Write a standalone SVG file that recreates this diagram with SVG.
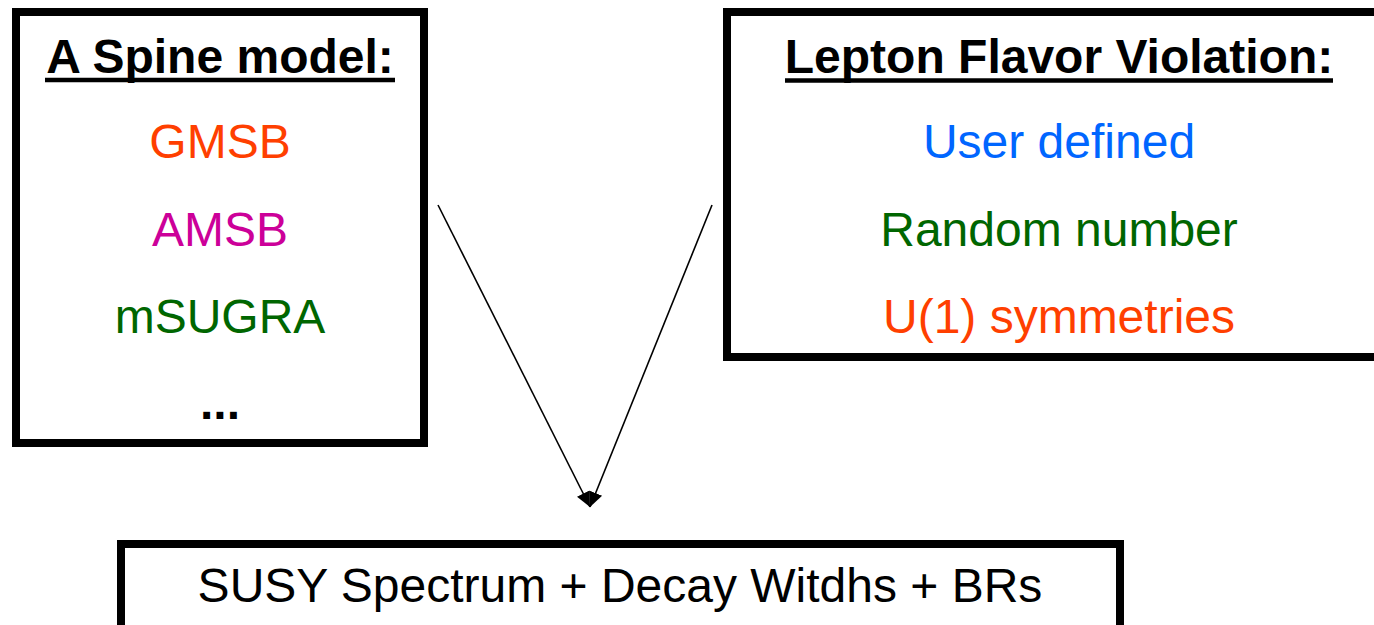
<svg xmlns="http://www.w3.org/2000/svg" width="1374" height="625" viewBox="0 0 1374 625">
  <style>
    .box { fill: #ffffff; stroke: #000000; stroke-width: 8; }
    .title { font-family: "Liberation Sans", Arial, sans-serif; font-size: 48px; font-weight: bold; fill: #000000; text-anchor: middle; }
    .item { font-family: "Liberation Sans", Arial, sans-serif; font-size: 48px; text-anchor: middle; }
    .uline { stroke: #000000; stroke-width: 4.5; }
    .edge { stroke: #000000; stroke-width: 1.6; fill: none; }
  </style>
  <defs>
    <marker id="head" markerUnits="userSpaceOnUse" markerWidth="16" markerHeight="16" refX="15" refY="7" orient="auto" viewBox="0 0 16 14">
      <path d="M0,0 L15,7 L0,14 z" fill="#000000"/>
    </marker>
  </defs>
  <rect width="1374" height="625" fill="#ffffff"/>

  <g id="spine-model">
    <rect class="box" x="16" y="12" width="408" height="431"/>
    <text class="title" x="220" y="73">A Spine model:</text>
    <line class="uline" x1="45" y1="80" x2="395" y2="80"/>
    <text class="item" x="220" y="158" fill="#ff3f00">GMSB</text>
    <text class="item" x="220" y="246" fill="#cc0099">AMSB</text>
    <text class="item" x="220" y="333" fill="#006600">mSUGRA</text>
    <text class="title" x="220" y="419">...</text>
  </g>

  <g id="lepton-flavor">
    <rect class="box" x="727" y="12" width="670" height="345"/>
    <text class="title" x="1059" y="73">Lepton Flavor Violation:</text>
    <line class="uline" x1="785" y1="80.5" x2="1333" y2="80.5"/>
    <text class="item" x="1059" y="158" fill="#0066ff">User defined</text>
    <text class="item" x="1059" y="246" fill="#006600">Random number</text>
    <text class="item" x="1059" y="333" fill="#ff3f00">U(1) symmetries</text>
  </g>

  <g id="susy-output">
    <rect class="box" x="121" y="544" width="999" height="120"/>
    <text class="item" x="620" y="602" fill="#000000">SUSY Spectrum + Decay Witdhs + BRs</text>
  </g>

  <g id="connectors">
    <line class="edge" x1="438" y1="205" x2="590" y2="507" marker-end="url(#head)"/>
    <line class="edge" x1="712" y1="205" x2="590" y2="507" marker-end="url(#head)"/>
  </g>
</svg>
